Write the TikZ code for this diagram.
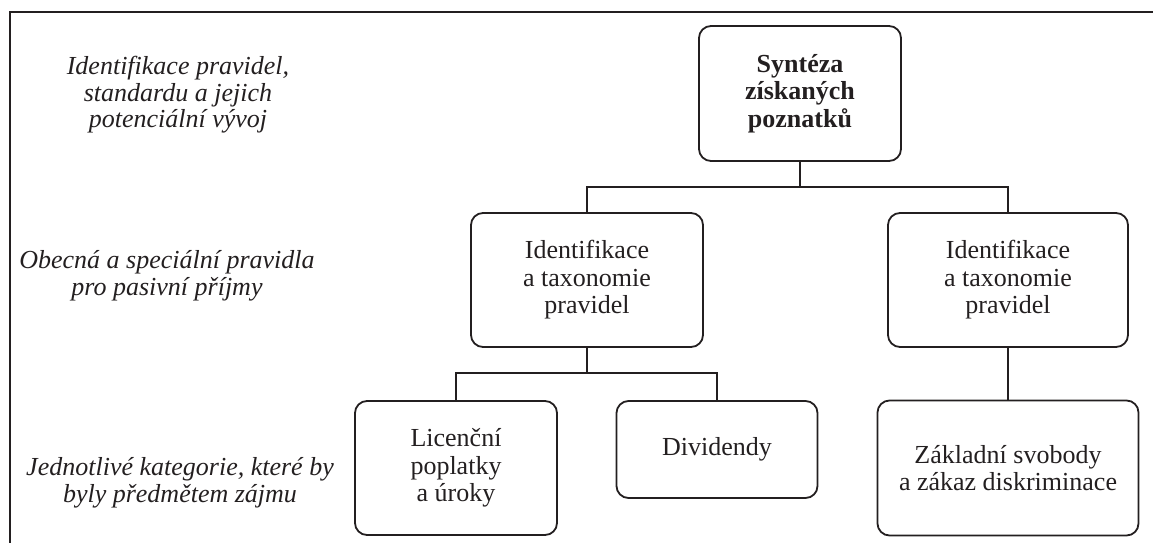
\documentclass[tikz,border=0pt]{standalone}
\usepackage{fontspec}
\setmainfont{Liberation Serif}
\definecolor{ink}{RGB}{35,31,32}
\begin{document}
\begin{tikzpicture}[x=1pt,y=-1pt,
  line width=1.8pt, draw=ink, text=ink,
  txt/.style={font=\fontsize{26}{27.5}\selectfont, align=center},
  box/.style={txt, draw=ink, rounded corners=12pt, inner sep=0pt},
  side/.style={font=\fontsize{26}{26.5}\selectfont\itshape, align=center, text=ink},
  link/.style={draw=ink, line width=1.8pt}]
  \useasboundingbox (0,0) rectangle (1153,543);
  % frame: top rule and left rule
  \draw[ink] (1153,12) -- (10,12) -- (10,543);

  % level labels
  \node[side] (l1) at (178,95) {Identifikace pravidel,\\standardu a jejich\\potenciální vývoj};
  \node[side] (l2) at (167,276) {Obecná a speciální pravidla\\pro pasivní příjmy};
  \node[side] (l3) at (180,483) {Jednotlivé kategorie, které by\\byly předmětem zájmu};

  % boxes
  \node[box, minimum width=202pt, minimum height=135pt, font=\fontsize{26}{27.5}\selectfont\bfseries] (top) at (800,93.5) {Syntéza\\získaných\\poznatků};
  \node[box, minimum width=232pt, minimum height=134pt] (midL) at (587,280) {Identifikace\\a taxonomie\\pravidel};
  \node[box, minimum width=240pt, minimum height=134pt] (midR) at (1008,280) {Identifikace\\a taxonomie\\pravidel};
  \node[box, minimum width=202pt, minimum height=134pt] (botL) at (456,468) {Licenční\\poplatky\\a úroky};
  \node[box, minimum width=201pt, minimum height=97pt] (div) at (717,449.5) {Dividendy};
  \node[box, minimum width=261pt, minimum height=135pt] (botR) at (1008,468) {Základní svobody\\a zákaz diskriminace};

  % connectors
  \coordinate (bus1) at (800,187);
  \coordinate (bus2) at (587,373);
  \draw[link] (top.south) -- (bus1);
  \draw[link] (midL.north) |- (bus1) -| (midR.north);
  \draw[link] (midL.south) -- (bus2);
  \draw[link] (botL.north) |- (bus2) -| (div.north);
  \draw[link] (midR.south) -- (botR.north);
\end{tikzpicture}
\end{document}
